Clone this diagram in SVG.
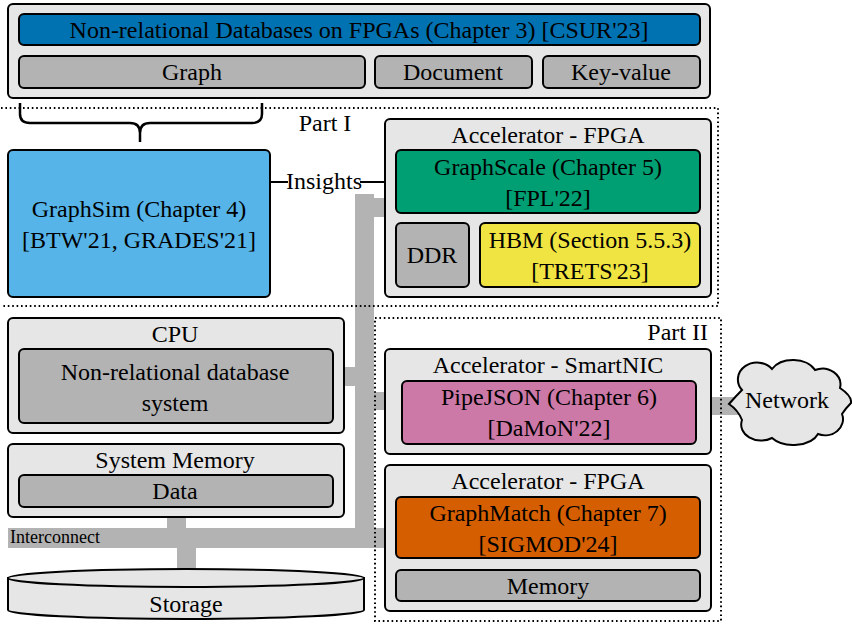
<svg xmlns="http://www.w3.org/2000/svg" width="852" height="626" viewBox="0 0 852 626" font-family="Liberation Serif, DejaVu Serif, serif">
  <style>
    text { font-family: "Liberation Serif", "DejaVu Serif", serif; font-size: 24px; fill: #000; text-anchor: middle; }
    .box { stroke: #000; stroke-width: 2; }
    .outer { fill: #e6e6e6; }
    .gray { fill: #b3b3b3; }
    .bus { fill: #b3b3b3; }
    .region { fill: none; stroke: #000; stroke-width: 2; stroke-dasharray: 1.6 2.8; }
  </style>
  <defs>
    <marker id="arrow" viewBox="0 0 8 8" refX="8" refY="4" markerWidth="8" markerHeight="8" markerUnits="userSpaceOnUse" orient="auto">
      <path d="M0,1 L8,4 L0,7 Z" fill="#000"/>
    </marker>
  </defs>

  <rect width="852" height="626" fill="#fff"/>

  <!-- interconnect bus (drawn beneath the boxes) -->
  <g id="interconnect">
    <rect class="bus" x="355" y="194" width="19" height="354"/>
    <rect class="bus" x="374" y="198" width="12" height="19"/>
    <rect class="bus" x="343" y="367" width="13" height="19"/>
    <rect class="bus" x="373" y="392" width="13" height="18"/>
    <rect class="bus" x="8" y="528" width="378" height="20"/>
    <rect class="bus" x="167" y="516" width="19" height="13"/>
    <rect class="bus" x="177" y="547" width="19" height="24"/>
    <rect class="bus" x="710" y="397" width="36" height="18"/>
    <text x="10" y="543" style="font-size:18px;text-anchor:start">Interconnect</text>
  </g>

  <!-- Part I / Part II regions -->
  <g id="part-i">
    <path class="region" d="M1,108 H718 V306 H1"/>
    <text x="325" y="131">Part I</text>
  </g>
  <g id="part-ii">
    <rect class="region" x="375" y="318" width="346" height="303"/>
    <text x="708" y="340" style="text-anchor:end">Part II</text>
  </g>

  <!-- survey header -->
  <g id="survey">
    <rect class="box outer" x="8" y="4" width="702" height="94" rx="5"/>
    <rect class="box" x="19" y="14" width="681" height="31" rx="5" fill="#0072b2"/>
    <text x="359" y="38">Non-relational Databases on FPGAs (Chapter 3) [CSUR'23]</text>
  </g>
  <g id="graph">
    <rect class="box gray" x="19" y="56" width="346" height="32" rx="5"/>
    <text x="192" y="80">Graph</text>
  </g>
  <g id="document">
    <rect class="box gray" x="375" y="56" width="157" height="32" rx="5"/>
    <text x="453" y="80">Document</text>
  </g>
  <g id="key-value">
    <rect class="box gray" x="543" y="56" width="157" height="32" rx="5"/>
    <text x="621" y="80">Key-value</text>
  </g>

  <!-- brace under Graph -->
  <g id="brace">
    <path d="M20,103 V114 Q20,123 30,123 H130 Q140,123 140,133 V142 M140,133 Q140,123 150,123 H252 Q262,123 262,114 V103" fill="none" stroke="#000" stroke-width="2.5"/>
  </g>

  <!-- GraphSim -->
  <g id="graphsim">
    <rect class="box" x="8" y="150" width="262" height="147" rx="5" fill="#56b4e9"/>
    <text x="139" y="217">GraphSim (Chapter 4)</text>
    <text x="139" y="248">[BTW'21, GRADES'21]</text>
  </g>

  <!-- Insights connector -->
  <g id="connectors">
    <line x1="270" y1="182" x2="288" y2="182" stroke="#000" stroke-width="2"/>
    <text x="324" y="189">Insights</text>
    <line x1="360" y1="182" x2="396" y2="182" stroke="#000" stroke-width="2" marker-end="url(#arrow)"/>
  </g>

  <!-- Accelerator FPGA (Part I) -->
  <g id="fpga-1">
    <rect class="box outer" x="385" y="119" width="326" height="178" rx="5"/>
    <text x="548" y="143">Accelerator - FPGA</text>
  </g>
  <g id="graphscale">
    <rect class="box" x="396" y="150" width="304" height="63" rx="5" fill="#009e73"/>
    <text x="548" y="175">GraphScale (Chapter 5)</text>
    <text x="548" y="206">[FPL'22]</text>
  </g>
  <g id="ddr">
    <rect class="box gray" x="396" y="223" width="73" height="64" rx="5"/>
    <text x="432" y="263">DDR</text>
  </g>
  <g id="hbm">
    <rect class="box" x="480" y="223" width="220" height="64" rx="5" fill="#f0e442"/>
    <text x="590" y="248">HBM (Section 5.5.3)</text>
    <text x="590" y="279">[TRETS'23]</text>
  </g>

  <!-- CPU -->
  <g id="cpu">
    <rect class="box outer" x="8" y="318" width="336" height="115" rx="5"/>
    <text x="175" y="342">CPU</text>
  </g>
  <g id="database-system">
    <rect class="box gray" x="19" y="349" width="314" height="74" rx="5"/>
    <text x="175" y="380">Non-relational database</text>
    <text x="175" y="411">system</text>
  </g>

  <!-- System memory -->
  <g id="system-memory">
    <rect class="box outer" x="8" y="444" width="336" height="73" rx="5"/>
    <text x="175" y="468">System Memory</text>
  </g>
  <g id="data">
    <rect class="box gray" x="19" y="475" width="314" height="32" rx="5"/>
    <text x="175" y="499">Data</text>
  </g>

  <!-- Storage -->
  <g id="storage">
    <path class="box outer" d="M8,578 V610 A178,9 0 0 0 364,610 V578 Z"/>
    <ellipse class="box outer" cx="186" cy="578" rx="178" ry="9"/>
    <text x="186" y="612">Storage</text>
  </g>

  <!-- SmartNIC -->
  <g id="smartnic">
    <rect class="box outer" x="385" y="349" width="326" height="105" rx="5"/>
    <text x="548" y="373">Accelerator - SmartNIC</text>
  </g>
  <g id="pipejson">
    <rect class="box" x="402" y="381" width="294" height="63" rx="5" fill="#cc79a7"/>
    <text x="549" y="405">PipeJSON (Chapter 6)</text>
    <text x="549" y="436">[DaMoN'22]</text>
  </g>

  <!-- Accelerator FPGA (Part II) -->
  <g id="fpga-2">
    <rect class="box outer" x="385" y="465" width="326" height="146" rx="5"/>
    <text x="548" y="489">Accelerator - FPGA</text>
  </g>
  <g id="graphmatch">
    <rect class="box" x="396" y="497" width="304" height="61" rx="5" fill="#d55e00"/>
    <text x="548" y="521">GraphMatch (Chapter 7)</text>
    <text x="548" y="552">[SIGMOD'24]</text>
  </g>
  <g id="memory">
    <rect class="box gray" x="396" y="570" width="304" height="31" rx="5"/>
    <text x="548" y="594">Memory</text>
  </g>

  <!-- Network cloud -->
  <g id="network">
    <path class="box outer" d="M742,390 A18,16 0 0 1 772,369 A24,17 0 0 1 815,370 A18,16 0 0 1 840,388 Q852,396 851,403 Q846,408 842,414 A18,16 0 0 1 818,434 A26,16 0 0 1 772,438 A20,16 0 0 1 742,420 Q738,410 729,404 Q736,396 742,390 Z"/>
    <text x="787" y="408">Network</text>
  </g>
</svg>
